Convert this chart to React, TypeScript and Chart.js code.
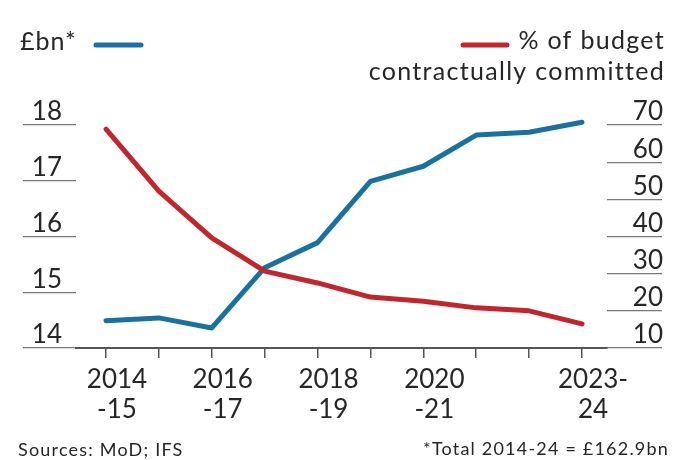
import React, { useEffect, useRef } from "react";
import { Chart, registerables } from "chart.js";

Chart.register(...registerables);

// ---- data ----
const categories = [
  "2014-15", "2015-16", "2016-17", "2017-18", "2018-19",
  "2019-20", "2020-21", "2021-22", "2022-23", "2023-24",
];
const xTickLabels: (string | string[])[] = [
  ["2014", "-15"], "", ["2016", "-17"], "", ["2018", "-19"],
  "", ["2020", "-21"], "", "", ["2023-", "24"],
];
const spendingBn = [14.49, 14.54, 14.36, 15.44, 15.89, 16.99, 17.26, 17.82, 17.87, 18.05];
const committedPct = [68.9, 52.2, 39.6, 30.7, 27.5, 23.7, 22.6, 20.8, 20.0, 16.5];
const leftTicks = [14, 15, 16, 17, 18];
const rightTicks = [10, 20, 30, 40, 50, 60, 70];

const unitLabel = "£bn*";
const pctLabelLines = ["% of budget", "contractually committed"];
const sourceText = "Sources: MoD; IFS";
const noteText = "*Total 2014-24 = £162.9bn";

const BLUE = "#1a719f";
const RED = "#c0262d";
const TEXT = "#262626";
const GRID = "#7a7a7a";
const FONT = "Lato";

const textPlugin = {
  id: "ftText",
  beforeDraw(chart: any) {
    const { ctx, width, height } = chart;
    ctx.save();
    ctx.fillStyle = "#ffffff";
    ctx.fillRect(0, 0, width, height);
    ctx.restore();
  },
  afterDraw(chart: any) {
    const ctx = chart.ctx;
    const ds = chart.data.datasets;
    ctx.save();
    ctx.fillStyle = TEXT;
    ctx.textBaseline = "alphabetic";
    ctx.font = `25px ${FONT}`;
    ctx.letterSpacing = "1px";
    ctx.textAlign = "left";
    ctx.fillText(unitLabel, 20, 50);
    ctx.letterSpacing = "1.3px";
    ctx.textAlign = "right";
    ctx.fillText(pctLabelLines[0], 665, 49);
    ctx.fillText(pctLabelLines[1], 665, 80);
    // legend swatches
    ctx.letterSpacing = "0px";
    ctx.lineCap = "round";
    ctx.lineWidth = 5;
    ctx.strokeStyle = ds[1].borderColor;
    ctx.beginPath();
    ctx.moveTo(96, 45);
    ctx.lineTo(141, 45);
    ctx.stroke();
    ctx.strokeStyle = ds[0].borderColor;
    ctx.beginPath();
    ctx.moveTo(463, 45);
    ctx.lineTo(507, 45);
    ctx.stroke();
    // footer
    ctx.font = `18px ${FONT}`;
    ctx.letterSpacing = "1.2px";
    ctx.textAlign = "left";
    ctx.fillText(sourceText, 18, 456);
    ctx.textAlign = "right";
    ctx.fillText(noteText, 669, 455);
    ctx.restore();
  },
};

export default function App() {
  const ref = useRef<HTMLCanvasElement | null>(null);

  useEffect(() => {
    document.body.style.margin = "0";
    const canvas = ref.current;
    if (!canvas) return;
    const chart = new Chart(canvas, {
      type: "line",
      data: {
        datasets: [
          {
            label: pctLabelLines.join(" "),
            data: committedPct.map((v, i) => ({ x: i, y: v })),
            yAxisID: "y1",
            borderColor: RED,
            borderWidth: 5,
            pointRadius: 0,
            tension: 0,
            clip: false,
            borderJoinStyle: "round",
            borderCapStyle: "round",
          },
          {
            label: unitLabel,
            data: spendingBn.map((v, i) => ({ x: i, y: v })),
            yAxisID: "y",
            borderColor: BLUE,
            borderWidth: 5,
            pointRadius: 0,
            tension: 0,
            clip: false,
            borderJoinStyle: "round",
            borderCapStyle: "round",
          },
        ],
      },
      options: {
        responsive: false,
        animation: false,
        devicePixelRatio: 1,
        layout: { padding: { left: 23, right: 10, top: 125, bottom: 0 } },
        plugins: { legend: { display: false }, tooltip: { enabled: false }, title: { display: false } },
        scales: {
          x: {
            type: "linear",
            min: -0.567,
            max: 9.473,
            afterFit: (s: any) => { s.height = 112; },
            afterBuildTicks: (s: any) => { s.ticks = categories.map((_, i) => ({ value: i })); },
            grid: { drawOnChartArea: false, drawTicks: true, tickLength: 10, color: "#555", lineWidth: 1.5 },
            border: { display: true, color: "#555", width: 2 },
            ticks: {
              autoSkip: false,
              maxRotation: 0,
              minRotation: 0,
              includeBounds: false,
              padding: 7,
              labelOffset: 11,
              color: TEXT,
              font: { family: FONT, size: 26, lineHeight: 1.15 },
              callback: (v: any) => xTickLabels[Math.round(v)] ?? "",
            },
          },
          y: {
            type: "linear",
            position: "left",
            min: 14,
            max: 18,
            afterFit: (s: any) => { s.width = 53; },
            afterBuildTicks: (s: any) => { s.ticks = leftTicks.map((v) => ({ value: v })); },
            grid: { drawOnChartArea: false, drawTicks: true, tickLength: 53, color: GRID, lineWidth: 1.3 },
            border: { display: false },
            ticks: {
              crossAlign: "near",
              padding: -39,
              labelOffset: -13,
              color: TEXT,
              font: { family: FONT, size: 26 },
            },
          },
          y1: {
            type: "linear",
            position: "right",
            min: 10,
            max: 70,
            afterFit: (s: any) => { s.width = 56; },
            afterBuildTicks: (s: any) => { s.ticks = rightTicks.map((v) => ({ value: v })); },
            grid: { drawOnChartArea: false, drawTicks: true, tickLength: 55, color: GRID, lineWidth: 1.3 },
            border: { display: false },
            ticks: {
              crossAlign: "far",
              padding: 0,
              labelOffset: -13,
              color: TEXT,
              font: { family: FONT, size: 26 },
            },
          },
        },
      },
      plugins: [textPlugin],
    } as any);
    return () => chart.destroy();
  }, []);

  return (
    <div style={{ width: 673, height: 460, position: "relative" }}>
      <canvas ref={ref} width={673} height={460} style={{ display: "block" }} />
    </div>
  );
}
